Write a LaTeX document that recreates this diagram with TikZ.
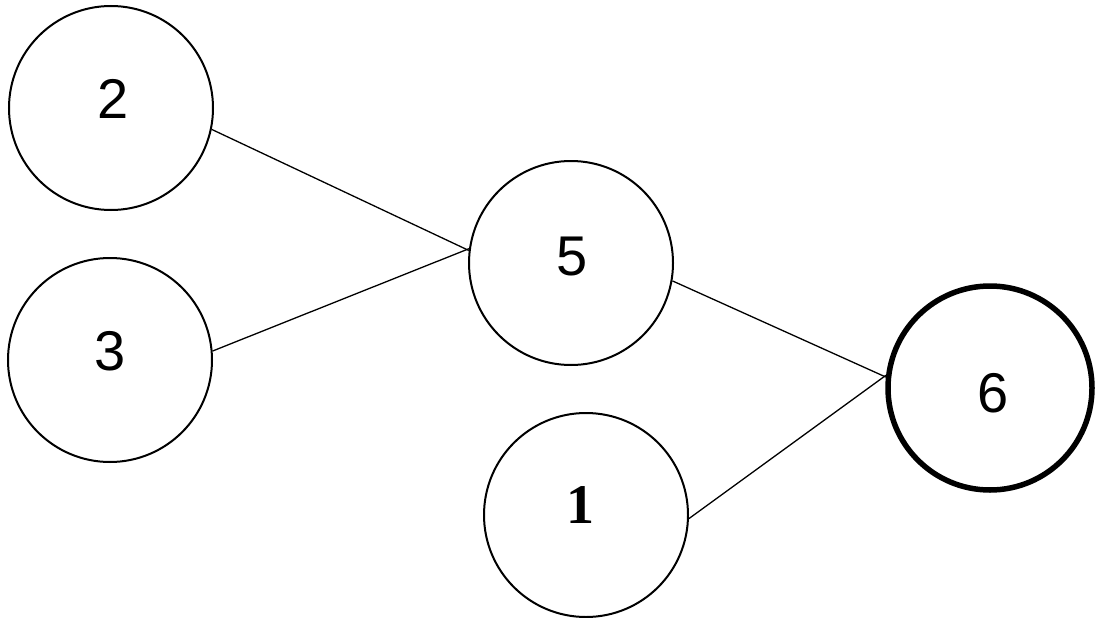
\documentclass[tikz,border=0pt]{standalone}
\usepackage{fontspec}
\setmainfont{Liberation Sans}
\newfontfamily\onefont{Liberation Serif}
\begin{document}
\begin{tikzpicture}[x=1pt,y=-1pt,
  vert/.style={circle,draw,line width=2pt,minimum size=204pt,inner sep=0pt},
  goal/.style={vert,line width=5.5pt},
  lbl/.style={font=\fontsize{56}{60}\selectfont,inner sep=0pt},
  edge/.style={line width=1.3pt}]
\useasboundingbox (0,0) rectangle (1097,618);
\node[vert] (n2) at (111,108) {};
\node[vert] (n3) at (110,360) {};
\node[vert] (n5) at (571,263) {};
\node[vert] (n1) at (586,515) {};
\node[goal] (n6) at (990,388) {};
\node[lbl] (t2) at (113,99) {2};
\node[lbl] (t3) at (110,351) {3};
\node[lbl] (t5) at (572,257) {5};
\node[lbl,font=\fontsize{56}{60}\onefont\bfseries\selectfont] (t1) at (580,505) {1};
\node[lbl] (t6) at (993,393) {6};
\draw[edge] (n2.-12) -- (n5.173);
\draw[edge] (n3.5) -- (n5.172);
\draw[edge] (n5.-10) -- (n6.174);
\draw[edge] (n1.-2) -- (n6.173);
\end{tikzpicture}
\end{document}
